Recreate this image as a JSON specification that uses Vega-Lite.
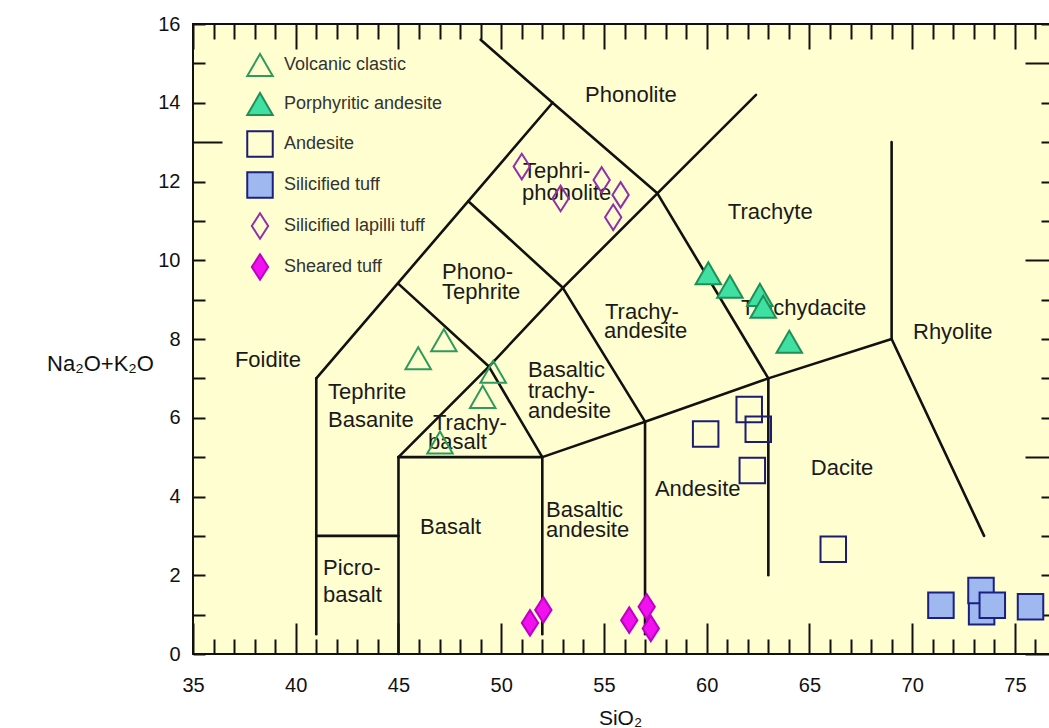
{
  "$schema": "https://vega.github.io/schema/vega-lite/v6.json",
  "autosize": "none",
  "width": 863,
  "height": 630,
  "padding": {"left": 193, "top": 24, "right": 0, "bottom": 74},
  "background": "#ffffff",
  "config": {
    "view": {"fill": "#FFFED0", "stroke": "#111111", "strokeWidth": 2},
    "font": "Liberation Sans"
  },
  "datasets": {
    "bounds": [
      {"x1": 41, "y1": 0.5, "x2": 41, "y2": 7},
      {"x1": 41, "y1": 3, "x2": 45, "y2": 3},
      {"x1": 45, "y1": 0, "x2": 45, "y2": 5},
      {"x1": 45, "y1": 5, "x2": 52, "y2": 5},
      {"x1": 52, "y1": 0.5, "x2": 52, "y2": 5},
      {"x1": 52, "y1": 5, "x2": 57, "y2": 5.9},
      {"x1": 57, "y1": 0.5, "x2": 57, "y2": 5.9},
      {"x1": 57, "y1": 5.9, "x2": 63, "y2": 7},
      {"x1": 63, "y1": 2, "x2": 63, "y2": 7},
      {"x1": 63, "y1": 7, "x2": 69, "y2": 8},
      {"x1": 69, "y1": 8, "x2": 69, "y2": 13},
      {"x1": 69, "y1": 8, "x2": 73.5, "y2": 3.0},
      {"x1": 41, "y1": 7, "x2": 52.5, "y2": 14},
      {"x1": 52.5, "y1": 14, "x2": 49.0, "y2": 15.6},
      {"x1": 45, "y1": 5, "x2": 49.4, "y2": 7.3},
      {"x1": 45, "y1": 9.4, "x2": 49.4, "y2": 7.3},
      {"x1": 49.4, "y1": 7.3, "x2": 52, "y2": 5},
      {"x1": 49.4, "y1": 7.3, "x2": 53, "y2": 9.3},
      {"x1": 53, "y1": 9.3, "x2": 57.6, "y2": 11.7},
      {"x1": 57.6, "y1": 11.7, "x2": 62.4, "y2": 14.2},
      {"x1": 48.4, "y1": 11.5, "x2": 53, "y2": 9.3},
      {"x1": 53, "y1": 9.3, "x2": 57, "y2": 5.9},
      {"x1": 52.5, "y1": 14, "x2": 57.6, "y2": 11.7},
      {"x1": 57.6, "y1": 11.7, "x2": 63, "y2": 7}
    ],
    "names": [
      {"label": "Phonolite", "x": 54.08, "y": 14.20},
      {"label": "Tephri-", "x": 51.06, "y": 12.27},
      {"label": "phonolite", "x": 51.01, "y": 11.71},
      {"label": "Trachyte", "x": 61.03, "y": 11.23},
      {"label": "Phono-", "x": 47.12, "y": 9.70},
      {"label": "Tephrite", "x": 47.12, "y": 9.19},
      {"label": "Trachy-", "x": 55.05, "y": 8.69},
      {"label": "andesite", "x": 55.0, "y": 8.20},
      {"label": "Trachydacite", "x": 61.67, "y": 8.79},
      {"label": "Rhyolite", "x": 70.04, "y": 8.18},
      {"label": "Foidite", "x": 37.04, "y": 7.47},
      {"label": "Tephrite", "x": 41.57, "y": 6.65},
      {"label": "Basanite", "x": 41.57, "y": 5.94},
      {"label": "Basaltic", "x": 51.30, "y": 7.21},
      {"label": "trachy-", "x": 51.30, "y": 6.68},
      {"label": "andesite", "x": 51.30, "y": 6.17},
      {"label": "Trachy-", "x": 46.68, "y": 5.87},
      {"label": "basalt", "x": 46.44, "y": 5.38},
      {"label": "Dacite", "x": 65.07, "y": 4.72},
      {"label": "Andesite", "x": 57.48, "y": 4.19},
      {"label": "Basaltic", "x": 52.18, "y": 3.66},
      {"label": "andesite", "x": 52.18, "y": 3.15},
      {"label": "Basalt", "x": 46.05, "y": 3.23},
      {"label": "Picro-", "x": 41.33, "y": 2.18},
      {"label": "basalt", "x": 41.33, "y": 1.50}
    ],
    "samples": [
      {"type": "Volcanic clastic", "x": 47.21, "y": 7.97},
      {"type": "Volcanic clastic", "x": 45.96, "y": 7.51},
      {"type": "Volcanic clastic", "x": 49.61, "y": 7.17},
      {"type": "Volcanic clastic", "x": 49.10, "y": 6.53},
      {"type": "Volcanic clastic", "x": 47.02, "y": 5.37},
      {"type": "Porphyritic andesite", "x": 60.08, "y": 9.67},
      {"type": "Porphyritic andesite", "x": 61.13, "y": 9.33},
      {"type": "Porphyritic andesite", "x": 62.59, "y": 9.12},
      {"type": "Porphyritic andesite", "x": 62.75, "y": 8.82},
      {"type": "Porphyritic andesite", "x": 64.02, "y": 7.93},
      {"type": "Andesite", "x": 62.07, "y": 6.21},
      {"type": "Andesite", "x": 62.51, "y": 5.71},
      {"type": "Andesite", "x": 59.95, "y": 5.59},
      {"type": "Andesite", "x": 62.22, "y": 4.66},
      {"type": "Andesite", "x": 66.16, "y": 2.66},
      {"type": "Silicified tuff", "x": 71.40, "y": 1.24},
      {"type": "Silicified tuff", "x": 73.38, "y": 1.07},
      {"type": "Silicified tuff", "x": 73.35, "y": 1.61},
      {"type": "Silicified tuff", "x": 73.90, "y": 1.24},
      {"type": "Silicified tuff", "x": 75.76, "y": 1.20},
      {"type": "Silicified lapilli tuff", "x": 51.0, "y": 12.38},
      {"type": "Silicified lapilli tuff", "x": 52.89, "y": 11.57},
      {"type": "Silicified lapilli tuff", "x": 54.89, "y": 12.04},
      {"type": "Silicified lapilli tuff", "x": 55.81, "y": 11.66},
      {"type": "Silicified lapilli tuff", "x": 55.45, "y": 11.09},
      {"type": "Sheared tuff", "x": 51.40, "y": 0.79},
      {"type": "Sheared tuff", "x": 52.05, "y": 1.12},
      {"type": "Sheared tuff", "x": 56.23, "y": 0.86},
      {"type": "Sheared tuff", "x": 57.08, "y": 1.20},
      {"type": "Sheared tuff", "x": 57.28, "y": 0.65}
    ]
  },
  "resolve": {"axis": {"x": "independent", "y": "independent"}},
  "layer": [
    {
      "data": {"name": "bounds"},
      "mark": {"type": "rule", "color": "#111111", "strokeWidth": 2.6, "strokeCap": "round"},
      "encoding": {
        "x": {
          "field": "x1", "type": "quantitative",
          "scale": {"domain": [35, 77], "nice": false, "zero": false},
          "axis": {
            "orient": "bottom",
            "values": [35,36,37,38,39,40,41,42,43,44,45,46,47,48,49,50,51,52,53,54,55,56,57,58,59,60,61,62,63,64,65,66,67,68,69,70,71,72,73,74,75,76,77],
            "labelExpr": "datum.value % 5 === 0 && datum.value <= 75 ? datum.label : ''",
            "labelOverlap": false,
            "labelFlush": false,
            "labelFont": "Liberation Sans",
            "labelFontSize": 20,
            "labelColor": "#111111",
            "labelPadding": 52,
            "tickSize": {"condition": {"test": "datum.value % 5 === 0", "value": -31}, "value": -15},
            "tickColor": "#111111",
            "tickWidth": 2,
            "domain": false,
            "grid": false,
            "title": "SiO₂",
            "titleFont": "Liberation Sans",
            "titleFontSize": 21,
            "titleFontWeight": "normal",
            "titleColor": "#111111",
            "titleAnchor": "start",
            "titleAlign": "center",
            "titleBaseline": "middle",
            "titleX": 427,
            "titleY": 64
          }
        },
        "y": {
          "field": "y1", "type": "quantitative",
          "scale": {"domain": [0, 16], "nice": false, "zero": false},
          "axis": {
            "orient": "left",
            "values": [0,1,2,3,4,5,6,7,8,9,10,11,12,13,14,15,16],
            "labelExpr": "datum.value % 2 === 0 ? datum.label : ''",
            "labelOverlap": false,
            "labelFlush": false,
            "labelFont": "Liberation Sans",
            "labelFontSize": 20,
            "labelColor": "#111111",
            "labelPadding": 25,
            "tickSize": {"condition": {"test": "datum.value === 13", "value": -29}, "value": -12},
            "tickColor": "#111111",
            "tickWidth": 2,
            "domain": false,
            "grid": false,
            "title": "Na₂O+K₂O",
            "titleFont": "Liberation Sans",
            "titleFontSize": 22,
            "titleFontWeight": "normal",
            "titleColor": "#111111",
            "titleAngle": 0,
            "titleAlign": "center",
            "titleBaseline": "middle",
            "titleX": -93,
            "titleY": 339
          }
        },
        "x2": {"field": "x2"},
        "y2": {"field": "y2"}
      }
    },
    {
      "data": {"name": "names"},
      "mark": {"type": "text", "font": "Liberation Sans", "fontSize": 22, "color": "#1a1a1a", "align": "left", "baseline": "middle"},
      "encoding": {
        "x": {
          "field": "x", "type": "quantitative",
          "scale": {"domain": [35, 77], "nice": false, "zero": false},
          "axis": {
            "orient": "top",
            "values": [35,36,37,38,39,40,41,42,43,44,45,46,47,48,49,50,51,52,53,54,55,56,57,58,59,60,61,62,63,64,65,66,67,68,69,70,71,72,73,74,75,76,77],
            "labels": false,
            "tickSize": {"condition": {"test": "datum.value % 5 === 0", "value": -25}, "value": -15},
            "tickColor": "#111111",
            "tickWidth": 2,
            "domain": false,
            "grid": false,
            "title": null
          }
        },
        "y": {
          "field": "y", "type": "quantitative",
          "scale": {"domain": [0, 16], "nice": false, "zero": false},
          "axis": {
            "orient": "right",
            "values": [0,1,2,3,4,5,6,7,8,9,10,11,12,13,14,15,16],
            "labels": false,
            "tickSize": {"condition": {"test": "datum.value % 5 === 0", "value": -31}, "value": -15},
            "tickColor": "#111111",
            "tickWidth": 2,
            "domain": false,
            "grid": false,
            "title": null
          }
        },
        "text": {"field": "label", "type": "nominal"}
      }
    },
    {
      "data": {"name": "samples"},
      "mark": {"type": "point", "opacity": 1, "strokeWidth": 2},
      "encoding": {
        "x": {"field": "x", "type": "quantitative", "scale": {"domain": [35, 77], "nice": false, "zero": false}, "axis": null},
        "y": {"field": "y", "type": "quantitative", "scale": {"domain": [0, 16], "nice": false, "zero": false}, "axis": null},
        "shape": {
          "field": "type", "type": "nominal",
          "scale": {
            "domain": ["Volcanic clastic", "Porphyritic andesite", "Andesite", "Silicified tuff", "Silicified lapilli tuff", "Sheared tuff"],
            "range": ["triangle-up", "triangle-up", "square", "square", "M0,-1L0.64,0L0,1L-0.64,0Z", "M0,-1L0.64,0L0,1L-0.64,0Z"]
          },
          "legend": {
            "title": null,
            "orient": "none",
            "legendX": 53,
            "legendY": 27,
            "padding": 0,
            "labelFont": "Liberation Sans",
            "labelFontSize": 18,
            "labelColor": "#333333",
            "labelOffset": 10,
            "symbolStrokeWidth": 2,
            "symbolOpacity": 1,
            "rowPadding": 7
          }
        },
        "fill": {
          "field": "type", "type": "nominal",
          "scale": {
            "domain": ["Volcanic clastic", "Porphyritic andesite", "Andesite", "Silicified tuff", "Silicified lapilli tuff", "Sheared tuff"],
            "range": ["transparent", "#3fe0a2", "transparent", "#a0b8f0", "transparent", "#f010f0"]
          },
          "legend": {"title": null}
        },
        "stroke": {
          "field": "type", "type": "nominal",
          "scale": {
            "domain": ["Volcanic clastic", "Porphyritic andesite", "Andesite", "Silicified tuff", "Silicified lapilli tuff", "Sheared tuff"],
            "range": ["#2f9a5c", "#1f8f5a", "#1c1c70", "#1a2080", "#9030a8", "#c000c0"]
          },
          "legend": {"title": null}
        },
        "size": {
          "field": "type", "type": "nominal",
          "scale": {
            "domain": ["Volcanic clastic", "Porphyritic andesite", "Andesite", "Silicified tuff", "Silicified lapilli tuff", "Sheared tuff"],
            "range": [650, 650, 530, 560, 1100, 1100]
          },
          "legend": {"title": null}
        }
      }
    }
  ]
}
